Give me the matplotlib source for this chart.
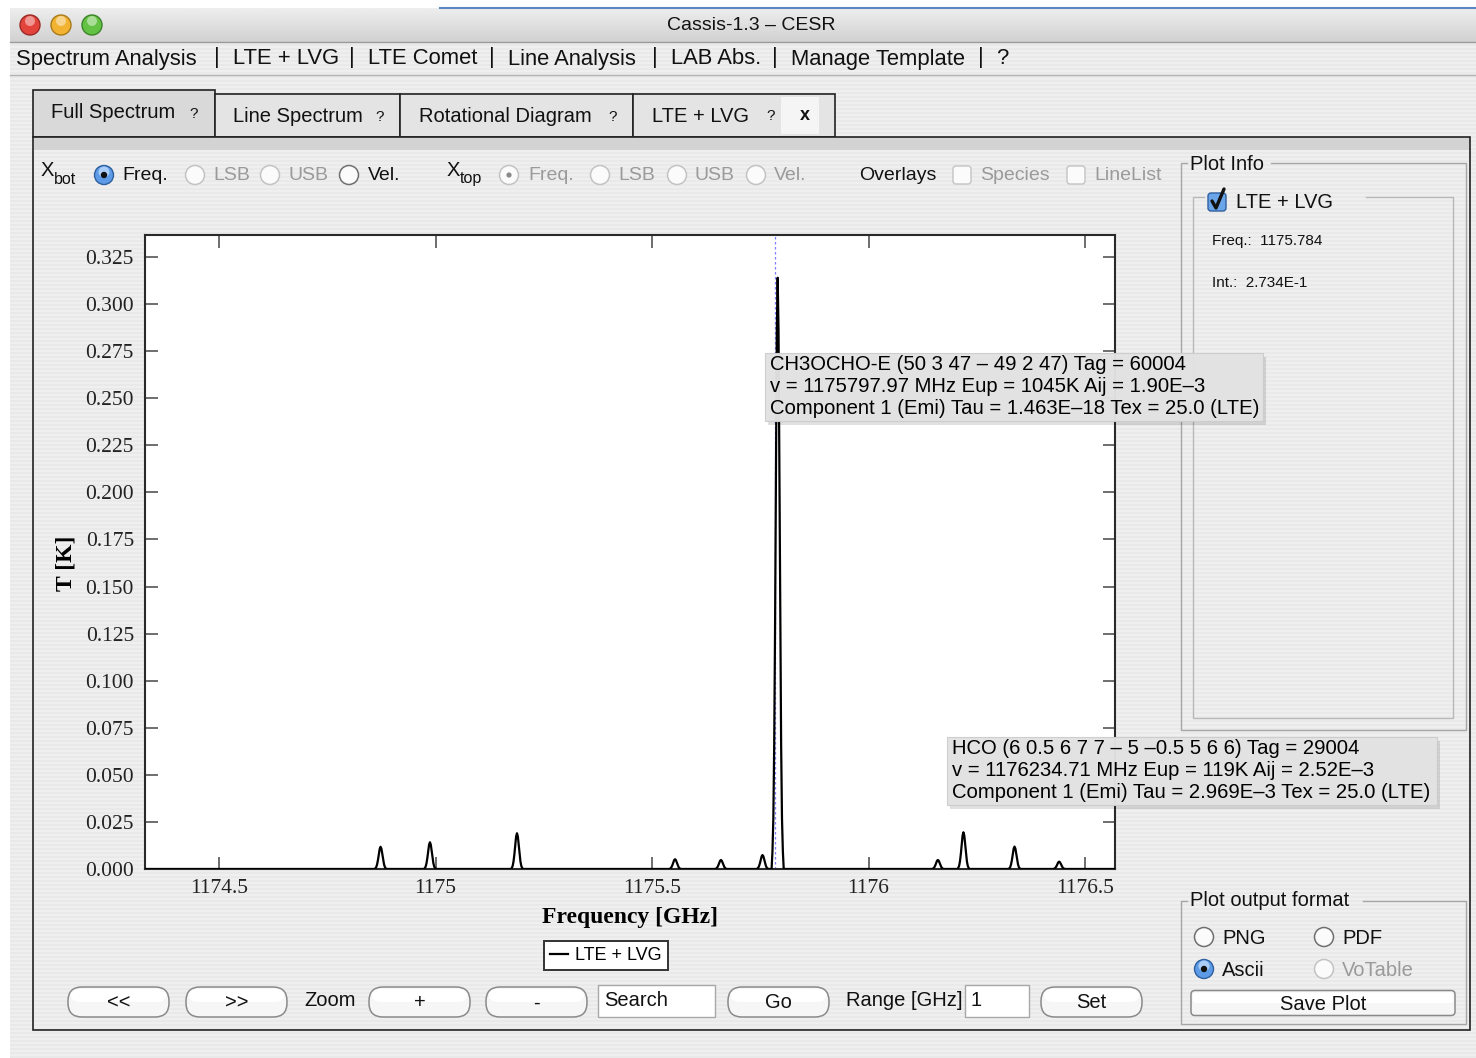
import numpy as np
import matplotlib.pyplot as plt
from matplotlib.patches import Rectangle, Circle, FancyBboxPatch

plt.rcParams['font.family'] = ['Liberation Sans', 'DejaVu Sans']

W, H = 1476, 1058

#-----Data-----#

# LTE + LVG model lines: centre frequency [GHz] and peak temperature [K]
lineFreq = [1174.873, 1174.987, 1175.188, 1175.553, 1175.659, 1175.755,
            1175.790, 1176.160, 1176.219, 1176.337, 1176.440]
lineInt = [0.0118, 0.0142, 0.0190, 0.0052, 0.0048, 0.0074,
           0.3140, 0.0048, 0.0195, 0.0119, 0.0039]

# sampled line profile around each centre (offset in GHz, relative height)
profileOffset = [-0.014, -0.012, -0.010, -0.008, -0.006, -0.004, -0.002, 0.0,
                 0.002, 0.004, 0.006, 0.008, 0.010, 0.012, 0.014]
profileShape = [0.0, 0.03, 0.085, 0.21, 0.41, 0.67, 0.91, 1.0,
                0.91, 0.67, 0.41, 0.21, 0.085, 0.03, 0.0]

freqRange = [1174.329, 1176.569]
tempRange = [0.0, 0.3367]

freqTicks = [1174.5, 1175.0, 1175.5, 1176.0, 1176.5]
freqLabels = ["1174.5", "1175", "1175.5", "1176", "1176.5"]
tempTicks = [0.000, 0.025, 0.050, 0.075, 0.100, 0.125, 0.150, 0.175,
             0.200, 0.225, 0.250, 0.275, 0.300, 0.325]

cursorFreq = 1175.784
cursorInt = 2.734e-1

tipCH3OCHO = ["CH3OCHO-E (50 3 47 \u2013 49 2 47) Tag = 60004",
              "v = 1175797.97 MHz Eup = 1045K Aij = 1.90E\u20133",
              "Component 1 (Emi) Tau = 1.463E\u201318 Tex = 25.0 (LTE)"]
tipHCO = ["HCO (6 0.5 6 7 7 \u2013 5 \u20130.5 5 6 6) Tag = 29004",
          "v = 1176234.71 MHz Eup = 119K Aij = 2.52E\u20133",
          "Component 1 (Emi) Tau = 2.969E\u20133 Tex = 25.0 (LTE)"]

menuItems = ["Spectrum Analysis", "LTE + LVG", "LTE Comet", "Line Analysis",
             "LAB Abs.", "Manage Template", "?"]
menuX = [16, 233, 368, 508, 671, 791, 996]
menuBarX = [214, 349, 489, 652, 772, 978]

TXT = '#111111'
DIM = '#9a9a9a'
GS = 14.5


#-----Widgets (pixel coordinates, y downwards)-----#

def radio(ax, x, y, state):
    if state == 'on':
        ax.add_patch(Circle((x, y), 9.5, fc='#5d9be6', ec='#2f5f9f', lw=1.0, zorder=3))
        ax.add_patch(Circle((x, y - 3), 5.5, fc='#a9cdf6', ec='none', zorder=3))
        ax.add_patch(Circle((x, y), 3.2, fc='#111111', ec='none', zorder=4))
    else:
        ec = '#6f6f6f' if state == 'off' else '#c3c3c3'
        ax.add_patch(Circle((x, y), 9.5, fc='#fbfbfb', ec=ec, lw=1.1, zorder=3))
        if state == 'dimOn':
            ax.add_patch(Circle((x, y), 2.6, fc='#8a8a8a', ec='none', zorder=4))


def checkbox(ax, x, y, checked=False, enabled=True):
    if checked:
        ax.add_patch(FancyBboxPatch((x - 9, y - 9), 18, 18, boxstyle="round,pad=0,rounding_size=3",
                                    fc='#6aa5ea', ec='#2f5f9f', lw=1.0, zorder=3))
        ax.plot([x - 5, x - 1, x + 7], [y - 1, y + 6, y - 13], color='#111111', lw=2.4,
                solid_capstyle='round', zorder=4)
    else:
        ec = '#7a7a7a' if enabled else '#c3c3c3'
        ax.add_patch(FancyBboxPatch((x - 9, y - 9), 18, 18, boxstyle="round,pad=0,rounding_size=3",
                                    fc='#fbfbfb', ec=ec, lw=1.0, zorder=3))


def button(ax, x0, x1, yc, label, h=30, radius=14):
    ax.add_patch(FancyBboxPatch((x0, yc - h / 2), x1 - x0, h,
                                boxstyle="round,pad=0,rounding_size=%g" % radius,
                                fc='#f6f6f6', ec='#8a8a8a', lw=1.1, zorder=3))
    ax.add_patch(FancyBboxPatch((x0 + 2, yc - h / 2 + 2), x1 - x0 - 4, h / 2 - 2,
                                boxstyle="round,pad=0,rounding_size=%g" % (radius * 0.7),
                                fc='#ffffff', ec='none', zorder=3))
    ax.text((x0 + x1) / 2, yc + 1, label, ha='center', va='center', fontsize=GS, color=TXT, zorder=4)


def field(ax, x0, x1, y0, y1, text):
    ax.add_patch(Rectangle((x0, y0), x1 - x0, y1 - y0, fc='white', ec='#a8a8a8', lw=1.0, zorder=3))
    ax.text(x0 + 6, (y0 + y1) / 2, text, ha='left', va='center', fontsize=GS, color=TXT, zorder=4)


def groupbox(ax, x0, y0, x1, y1, gap0, gap1, color='#a6a6a6'):
    ax.plot([gap1, x1, x1, x0, x0, gap0], [y0, y0, y1, y1, y0, y0], color=color, lw=1.0, zorder=3)


def label(ax, x, y, text, color=TXT, size=GS, **kw):
    ax.text(x, y, text, ha='left', va='center', fontsize=size, color=color, zorder=4, **kw)


#-----Figure-----#

fig = plt.figure(figsize=(W / 100, H / 100), dpi=100)
fig.patch.set_facecolor('white')

bg = fig.add_axes([0, 0, 1, 1], zorder=0)
bg.set_xlim(0, W)
bg.set_ylim(H, 0)
bg.axis('off')

# pinstripe window background
stripes = np.array([[0.935], [0.935], [0.912], [0.912]])
stripes = np.tile(stripes, (H // 4 + 1, 1))[:H - 42]
bg.imshow(stripes, cmap='gray', vmin=0, vmax=1, extent=(10, W, H, 42),
          aspect='auto', interpolation='nearest', zorder=0)

# title bar
grad = np.linspace(0.93, 0.82, 40).reshape(-1, 1)
bg.imshow(grad, cmap='gray', vmin=0, vmax=1, extent=(10, W, 42, 8),
          aspect='auto', interpolation='bilinear', zorder=1)
bg.plot([440, W], [8, 8], color='#5b86c4', lw=1.5, zorder=2)
bg.plot([10, W], [42, 42], color='#9a9a9a', lw=1.0, zorder=2)
bg.plot([10, W], [75, 75], color='#b2b2b2', lw=1.0, zorder=2)
for cx, fc, ec in [(30, '#e2443c', '#9c2a24'), (61, '#f2b333', '#a87a18'), (92, '#63c244', '#3c8428')]:
    bg.add_patch(Circle((cx, 25), 10, fc=fc, ec=ec, lw=1.0, zorder=3))
    bg.add_patch(Circle((cx, 21), 5, fc='white', ec='none', alpha=0.45, zorder=4))
bg.text(751, 26, "Cassis-1.3 \u2013 CESR", ha='center', va='center', fontsize=14, color=TXT, zorder=4)

# menu
for x, item in zip(menuX, menuItems):
    label(bg, x, 59, item, size=15.8)
for x in menuBarX:
    label(bg, x, 58, "|", size=15.8)

# tabs
bg.add_patch(Rectangle((33, 90), 182, 47, fc='#d9d9d9', ec='#222222', lw=1.2, zorder=2))
for x0, x1 in [(215, 400), (400, 633), (633, 835)]:
    bg.add_patch(Rectangle((x0, 94), x1 - x0, 43, fc='#e4e4e4', ec='#222222', lw=1.2, zorder=2))
bg.add_patch(Rectangle((781, 97), 38, 37, fc='#f5f5f5', ec='none', zorder=2))
label(bg, 51, 113, "Full Spectrum")
label(bg, 189, 114, "?", size=11)
label(bg, 233, 116, "Line Spectrum")
label(bg, 375, 117, "?", size=11)
label(bg, 419, 116, "Rotational Diagram")
label(bg, 608, 117, "?", size=11)
label(bg, 652, 116, "LTE + LVG")
label(bg, 766, 116, "?", size=11)
label(bg, 800, 116, "x", size=13, fontweight='bold')

# main panel
bg.add_patch(Rectangle((34, 137), 1436, 13, fc='#d3d3d3', ec='none', zorder=2))
bg.add_patch(Rectangle((33, 137), 1437, 893, fc='none', ec='#222222', lw=1.2, zorder=3))

# axis selection row
label(bg, 41, 170, "X", size=14.5)
label(bg, 54, 179, "bot", size=11.5)
radio(bg, 104, 175, 'on')
label(bg, 122, 176, "Freq.", size=14)
radio(bg, 195, 175, 'dim')
label(bg, 213, 176, "LSB", color=DIM, size=14)
radio(bg, 270, 175, 'dim')
label(bg, 289, 176, "USB", color=DIM, size=14)
radio(bg, 349, 175, 'off')
label(bg, 368, 176, "Vel.", size=14)
label(bg, 447, 170, "X", size=14.5)
label(bg, 460, 179, "top", size=11.5)
radio(bg, 509, 175, 'dimOn')
label(bg, 528, 176, "Freq.", color=DIM, size=14)
radio(bg, 600, 175, 'dim')
label(bg, 618, 176, "LSB", color=DIM, size=14)
radio(bg, 677, 175, 'dim')
label(bg, 695, 176, "USB", color=DIM, size=14)
radio(bg, 756, 175, 'dim')
label(bg, 774, 176, "Vel.", color=DIM, size=14)
label(bg, 859, 175, "Overlays", size=14)
checkbox(bg, 962, 175, enabled=False)
label(bg, 980, 176, "Species", color=DIM, size=14)
checkbox(bg, 1076, 175, enabled=False)
label(bg, 1094, 176, "LineList", color=DIM, size=14)

# plot info panel
groupbox(bg, 1181, 163, 1466, 730, 1187, 1271)
label(bg, 1190, 164, "Plot Info")
groupbox(bg, 1193, 197, 1453, 718, 1204, 1366, color='#b8b8b8')
checkbox(bg, 1217, 202, checked=True)
label(bg, 1236, 203, "LTE + LVG")
label(bg, 1212, 241, "Freq.:  %.3f" % cursorFreq, size=11)
label(bg, 1212, 283, "Int.:  %.3fE-1" % (cursorInt * 10), size=11)

# output format panel
groupbox(bg, 1181, 901, 1466, 1024, 1187, 1363)
label(bg, 1190, 901, "Plot output format")
radio(bg, 1204, 937, 'off')
label(bg, 1222, 938, "PNG")
radio(bg, 1324, 937, 'off')
label(bg, 1342, 938, "PDF")
radio(bg, 1204, 969, 'on')
label(bg, 1222, 970, "Ascii")
radio(bg, 1324, 969, 'dim')
label(bg, 1342, 970, "VoTable", color=DIM)
button(bg, 1191, 1455, 1003, "Save Plot", h=25, radius=4)

# navigation row
button(bg, 68, 169, 1002, "<<")
button(bg, 186, 287, 1002, ">>")
label(bg, 304, 1000, "Zoom")
button(bg, 369, 470, 1002, "+")
button(bg, 486, 587, 1002, "-")
field(bg, 598, 715, 985, 1017, "Search")
button(bg, 728, 829, 1002, "Go")
label(bg, 846, 1000, "Range [GHz]")
field(bg, 965, 1029, 985, 1017, "1")
button(bg, 1041, 1142, 1002, "Set")


#-----Spectrum-----#

freq = [freqRange[0]]
temp = [0.0]
for f0, t0 in zip(lineFreq, lineInt):
    for dx, s in zip(profileOffset, profileShape):
        freq.append(f0 + dx)
        temp.append(t0 * s)
freq.append(freqRange[1])
temp.append(0.0)

ax = fig.add_axes([145 / W, 1 - 869 / H, 970 / W, 634 / H], zorder=2)
ax.set_facecolor('white')
ax.plot(freq, temp, color='black', lw=1.6, label="LTE + LVG", zorder=3)
ax.axvline(cursorFreq, color='#7f7fff', lw=0.9, ls=(0, (2, 2)), zorder=2)

ax.set_xlim(freqRange)
ax.set_ylim(tempRange)
ax.set_xticks(freqTicks)
ax.set_xticklabels(freqLabels)
ax.set_yticks(tempTicks)
ax.set_yticklabels(["%.3f" % t for t in tempTicks])

for lab in ax.get_xticklabels() + ax.get_yticklabels():
    lab.set_fontfamily('Liberation Serif')
    lab.set_fontsize(15.5)
    lab.set_color('#222222')

ax.tick_params(direction='in', length=9, width=1.2, color='#555555',
               top=True, right=True, pad=8)
ax.tick_params(axis='x', pad=7)
for side in ax.spines:
    ax.spines[side].set_linewidth(1.5)
    ax.spines[side].set_color('#2a2a2a')

ax.set_xlabel("Frequency [GHz]", family='Liberation Serif', fontweight='bold', fontsize=17)
ax.set_ylabel("T [K]", family='Liberation Serif', fontweight='bold', fontsize=17)
ax.xaxis.set_label_coords(0.5, (869 - 907) / 634)
ax.yaxis.set_label_coords((76 - 145) / 970, (869 - 563) / 634)

leg = ax.legend(loc='center', bbox_to_anchor=(606 / W, 1 - 955.5 / H),
                bbox_transform=fig.transFigure, fancybox=False, framealpha=1,
                edgecolor='#333333', fontsize=13, handlelength=1.0, handletextpad=0.4,
                borderpad=0.35, borderaxespad=0)
leg.get_frame().set_linewidth(1.4)


#-----Tooltips-----#

top = fig.add_axes([0, 0, 1, 1], zorder=5)
top.set_xlim(0, W)
top.set_ylim(H, 0)
top.axis('off')
top.patch.set_visible(False)


def tooltip(ax, x0, y0, x1, y1, lines):
    ax.add_patch(Rectangle((x0 + 3, y0 + 4), x1 - x0, y1 - y0, fc='black', ec='none', alpha=0.12))
    ax.add_patch(Rectangle((x0, y0), x1 - x0, y1 - y0, fc='#e3e3e3', ec='#cdcdcd', lw=0.8, alpha=0.97))
    for i, text in enumerate(lines):
        ax.text(x0 + 5, y0 + 12 + 22 * i, text, ha='left', va='center', fontsize=14.6, color='#000000')


tooltip(top, 765, 353, 1263, 421, tipCH3OCHO)
tooltip(top, 947, 737, 1437, 805, tipHCO)

plt.savefig("out.png", dpi=100)
